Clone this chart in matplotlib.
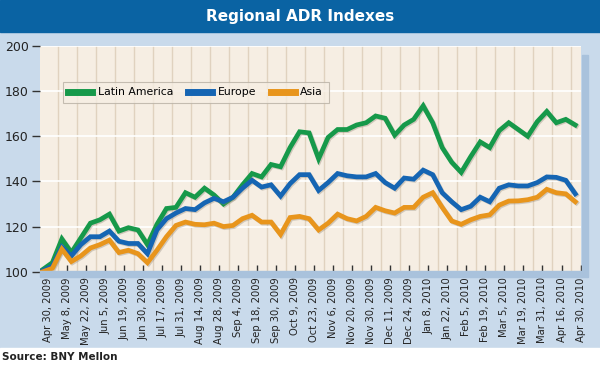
import matplotlib
matplotlib.use("Agg")
import matplotlib.pyplot as plt
from matplotlib.patches import Rectangle
import matplotlib.patheffects as pe

# series values (about weekly)
latin_america = [101, 104, 114.5, 108.5, 115, 121.5, 123, 125.5, 118, 119.5,
                 118.5, 112, 121, 128, 128.5, 135, 133, 137, 134, 130,
                 133, 138.5, 143.5, 142, 147.5, 146.5, 155, 162, 161.5, 150,
                 159.5, 163, 163, 165, 166, 169, 168, 160.5, 165, 167.5,
                 173.5, 166, 155, 148.5, 144, 151, 157.5, 155, 162.5, 166,
                 163, 160, 166.5, 171, 166, 167.5, 165]
europe = [100.5, 102.5, 111, 107, 112, 115.5, 115.5, 118, 113.5, 112.5,
          112.5, 108, 118.5, 123.5, 126, 128, 127.5, 130.5, 132.5, 131,
          133, 137, 140.5, 137.5, 138.5, 133.5, 139, 143, 143, 136,
          139.5, 143.5, 142.5, 142, 142, 143.5, 139.5, 137, 141.5, 141,
          145, 143, 135, 131, 127.5, 129, 133, 131, 137, 138.5,
          138, 138, 139.5, 142, 141.8, 140.5, 134.5]
asia = [100, 101.5, 110, 104.5, 107, 110.5, 112, 114, 108.5, 109.5,
        108, 104, 109.5, 115.5, 120.5, 122, 121, 120.8, 121.5, 120,
        120.5, 123.5, 125, 122, 122, 116.5, 124, 124.5, 123.5, 118.5,
        121.5, 125.5, 123.5, 122.5, 124.5, 128.5, 127, 126, 128.5, 128.5,
        133, 135, 128.5, 122.5, 121, 123, 124.5, 125.2, 129.5, 131.3,
        131.4, 131.9, 133, 136.5, 135, 134.5, 131]

tick_labels = ["Apr 30, 2009", "May 8, 2009", "May 22, 2009", "Jun 5, 2009",
               "Jun 19, 2009", "Jun 30, 2009", "Jul 17, 2009", "Jul 31, 2009",
               "Aug 14, 2009", "Aug 28, 2009", "Sep 4, 2009", "Sep 18, 2009",
               "Sep 30, 2009", "Oct 9, 2009", "Oct 23, 2009", "Nov 6, 2009",
               "Nov 20, 2009", "Nov 30, 2009", "Dec 11, 2009", "Dec 24, 2009",
               "Jan 8, 2010", "Jan 22, 2010", "Feb 5, 2010", "Feb 19, 2010",
               "Mar 5, 2010", "Mar 19, 2010", "Mar 31, 2010", "Apr 16, 2010",
               "Apr 30, 2010"]
y_ticks = [100, 120, 140, 160, 180, 200]

W, H = 600, 366
light_blue = "#c9daeb"
dark_blue = "#0a63a3"
cream = "#f6eee3"
green = "#16994a"
blue = "#1565b3"
orange = "#e8951c"
plt.rcParams["font.family"] = ["Liberation Sans Narrow", "DejaVu Sans"]

fig = plt.figure(figsize=(W / 100, H / 100), dpi=100)
fig.patch.set_facecolor(light_blue)

# header bar and white footer strip
fig.patches.append(Rectangle((0, 1 - 32 / H), 1, 32 / H, transform=fig.transFigure,
                             color=dark_blue, zorder=0))
fig.patches.append(Rectangle((0, 0), 1, 18 / H, transform=fig.transFigure,
                             color="white", zorder=0))
# shadow strip on the right of the plot and band under it
fig.patches.append(Rectangle((582 / W, 1 - 277 / H), 6 / W, 222 / H,
                             transform=fig.transFigure, color="#a9c2dc", zorder=0))
fig.patches.append(Rectangle((40 / W, 1 - 277 / H), 542 / W, 6 / H,
                             transform=fig.transFigure, color="#a9c2dc", zorder=0))

fig.text(0.5, 1 - 16 / H, "Regional ADR Indexes", color="white", fontsize=11,
         fontweight="bold", ha="center", va="center", family="DejaVu Sans")
fig.text(2 / W, 1 - 357 / H, "Source: BNY Mellon", color="#222222", fontsize=7.5,
         fontweight="bold", ha="left", va="center")

ax = fig.add_axes([40 / W, 1 - 271.7 / H, 541 / W, 225.7 / H])
ax.set_facecolor(cream)
x = list(range(len(latin_america)))

shadow = [pe.SimpleLineShadow(offset=(0.8, -0.8), shadow_color="#8a8070", alpha=0.35),
          pe.Normal()]
ax.plot(x, latin_america, color=green, lw=3.4, solid_joinstyle="miter",
        label="Latin America", zorder=3, path_effects=shadow)
ax.plot(x, europe, color=blue, lw=3.4, solid_joinstyle="miter",
        label="Europe", zorder=4, path_effects=shadow)
ax.plot(x, asia, color=orange, lw=3.4, solid_joinstyle="miter",
        label="Asia", zorder=5, path_effects=shadow)

ax.set_xlim(-0.3, 56.6)
ax.set_ylim(100, 200)

ticks = [0.55 + 2 * k for k in range(len(tick_labels))]
ax.set_xticks(ticks)
ax.set_xticklabels(tick_labels, rotation=90, fontsize=7.2, color="#222222")
ax.tick_params(axis="x", direction="in", length=5, width=1, color="#333333",
               pad=4)
ax.set_xticks([t + 1.05 for t in ticks[:-1]], minor=True)
ax.tick_params(axis="x", which="minor", length=0)
ax.grid(axis="x", which="minor", color="#e0d2bf", lw=1, zorder=0)

ax.set_yticks(y_ticks)
ax.set_yticklabels([str(v) for v in y_ticks], fontsize=9, color="#222222")
ax.tick_params(axis="y", direction="out", length=6, width=1, color="#333333", pad=2)
ax.grid(axis="y", color="white", lw=1.2, zorder=0)
ax.set_axisbelow(True)

for s in ax.spines.values():
    s.set_visible(False)

leg = ax.legend(loc="upper left", bbox_to_anchor=(23 / 541, 1 - 36 / 225.7),
                ncol=3, frameon=True, fontsize=7.8, handlelength=2.2,
                handletextpad=0.5, columnspacing=1.4, borderpad=0.5,
                fancybox=False, borderaxespad=0)
leg.get_frame().set_facecolor(cream)
leg.get_frame().set_edgecolor("#b8b0a4")
leg.get_frame().set_linewidth(0.8)
for line in leg.get_lines():
    line.set_linewidth(5)
    line.set_path_effects([])

fig.savefig("out.png", dpi=100, facecolor=fig.get_facecolor())
